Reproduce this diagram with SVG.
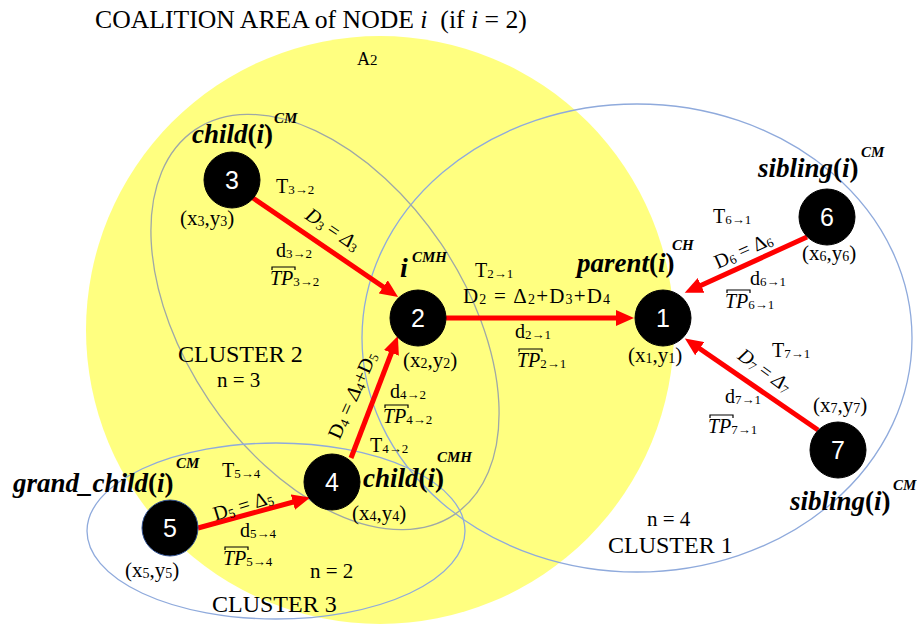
<svg xmlns="http://www.w3.org/2000/svg" width="917" height="626" viewBox="0 0 917 626">
<style>
text{font-family:"Liberation Serif","Times New Roman",serif;fill:#000}
.t{font-size:20px}
.co{font-size:21px}
.s{font-size:13px}
.s2{font-size:14px}
.lbl{font-size:27px;font-weight:bold;font-style:italic}
.up{font-style:normal}
.sup{font-size:15px;font-weight:bold;font-style:italic}
.it{font-style:italic}
.cl{font-size:24px}
.num{font-family:"Liberation Sans","Open Sans",sans-serif;font-size:25px;fill:#fff;text-anchor:middle}
.node{fill:#000;stroke:#000;stroke-width:1}
.clu{fill:none;stroke-width:1.3}
.arr{stroke:#ff0000;stroke-width:5;fill:none;marker-end:url(#ah)}
.ob{fill:none;stroke:#000;stroke-width:1.2}
</style>
<defs>
<marker id="ah" markerUnits="userSpaceOnUse" markerWidth="20" markerHeight="16" refX="10" refY="8" orient="auto">
<path d="M0,0 L18,8 L0,16 z" fill="#ff0000"/>
</marker>
</defs>
<rect width="917" height="626" fill="#fff"/>
<g id="coalition-area">
<circle cx="380" cy="330" r="294" fill="#ffff80"/>
</g>
<g id="clusters">
<ellipse id="cluster1" class="clu" cx="637" cy="338" rx="275" ry="234" stroke="#8faadc"/>
<ellipse id="cluster2" class="clu" cx="0" cy="0" rx="232" ry="140" transform="translate(325,322) rotate(56)" stroke="#9fa8a6"/>
<ellipse id="cluster3" class="clu" cx="276" cy="531" rx="189" ry="88" stroke="#8faadc"/>
</g>
<g id="title">
<text x="95" y="28" style="font-size:25.7px" xml:space="preserve">COALITION AREA of NODE <tspan class="it">i</tspan>  (if <tspan class="it">i</tspan> = 2)</text>
<text x="357" y="65" style="font-size:18px">A<tspan style="font-size:15px">2</tspan></text>
</g>
<g id="connectors">
<path id="e3-2" class="arr" d="M253,198 L391.5,292.5"/>
<path id="e2-1" class="arr" d="M446,318 L626,318"/>
<path id="e6-1" class="arr" d="M807,237 L692,289.5"/>
<path id="e7-1" class="arr" d="M818,430 L691.5,343"/>
<path id="e4-2" class="arr" d="M351,458 L395,343.5"/>
<path id="e5-4" class="arr" d="M198,528 L302.5,499.5"/>
</g>
<g id="node3">
<circle class="node" cx="232" cy="180" r="28"/>
<text class="num" x="232" y="189">3</text>
<text class="lbl" x="192" y="143">child<tspan class="up">(</tspan>i<tspan class="up">)</tspan></text>
<text class="sup" x="274" y="123">CM</text>
<text class="co" x="180" y="225">(x<tspan class="s2" dy="1">3</tspan><tspan dy="-1">,y</tspan><tspan class="s2" dy="1">3</tspan><tspan dy="-1">)</tspan></text>
</g>
<g id="node2">
<circle class="node" cx="418" cy="318" r="28"/>
<text class="num" x="418" y="327">2</text>
<text class="lbl" x="400" y="277" style="font-size:28px">i</text>
<text class="sup" x="412" y="262">CMH</text>
<text class="co" x="403" y="367">(x<tspan class="s2" dy="1">2</tspan><tspan dy="-1">,y</tspan><tspan class="s2" dy="1">2</tspan><tspan dy="-1">)</tspan></text>
</g>
<g id="node1">
<circle class="node" cx="663" cy="318" r="28"/>
<text class="num" x="663" y="327">1</text>
<text class="lbl" x="577" y="272">parent<tspan class="up">(</tspan>i<tspan class="up">)</tspan></text>
<text class="sup" x="672" y="250">CH</text>
<text class="co" x="628" y="362">(x<tspan class="s2" dy="1">1</tspan><tspan dy="-1">,y</tspan><tspan class="s2" dy="1">1</tspan><tspan dy="-1">)</tspan></text>
</g>
<g id="node6">
<circle class="node" cx="827" cy="217" r="28"/>
<text class="num" x="827" y="226">6</text>
<text class="lbl" x="758" y="177">sibling<tspan class="up">(</tspan>i<tspan class="up">)</tspan></text>
<text class="sup" x="861" y="157">CM</text>
<text class="co" x="802" y="260">(x<tspan class="s2" dy="1">6</tspan><tspan dy="-1">,y</tspan><tspan class="s2" dy="1">6</tspan><tspan dy="-1">)</tspan></text>
</g>
<g id="node7">
<circle class="node" cx="838" cy="450" r="28"/>
<text class="num" x="838" y="459">7</text>
<text class="lbl" x="790" y="510">sibling<tspan class="up">(</tspan>i<tspan class="up">)</tspan></text>
<text class="sup" x="893" y="490">CM</text>
<text class="co" x="813" y="412">(x<tspan class="s2" dy="1">7</tspan><tspan dy="-1">,y</tspan><tspan class="s2" dy="1">7</tspan><tspan dy="-1">)</tspan></text>
</g>
<g id="node4">
<circle class="node" cx="332" cy="482" r="28"/>
<text class="num" x="332" y="491">4</text>
<text class="lbl" x="363" y="487">child<tspan class="up">(</tspan>i<tspan class="up">)</tspan></text>
<text class="sup" x="437" y="462">CMH</text>
<text class="co" x="352" y="520">(x<tspan class="s2" dy="1">4</tspan><tspan dy="-1">,y</tspan><tspan class="s2" dy="1">4</tspan><tspan dy="-1">)</tspan></text>
</g>
<g id="node5">
<circle class="node" cx="170" cy="528" r="28" style="stroke:#2f4f8f"/>
<text class="num" x="170" y="537">5</text>
<text class="lbl" x="13" y="492">grand_child<tspan class="up">(</tspan>i<tspan class="up">)</tspan></text>
<text class="sup" x="176" y="468">CM</text>
<text class="co" x="125" y="577">(x<tspan class="s2" dy="1">5</tspan><tspan dy="-1">,y</tspan><tspan class="s2" dy="1">5</tspan><tspan dy="-1">)</tspan></text>
</g>
<g id="edge-labels">
<text class="t" x="276" y="193">T<tspan class="s" dy="1">3→2</tspan></text>
<g transform="translate(333,229) rotate(34)"><text class="t" x="0" y="7" text-anchor="middle"><tspan class="it">D</tspan><tspan class="s" dy="2">3</tspan><tspan dy="-2"> = </tspan><tspan class="it">Δ</tspan><tspan class="s" dy="2">3</tspan></text></g>
<text class="t" x="276" y="257">d<tspan class="s" dy="1">3→2</tspan></text>
<text class="t" x="270" y="285"><tspan class="it">TP</tspan><tspan class="s" dy="1">3→2</tspan></text>
<path class="ob" d="M272,270 V267 H295 V270"/>
<text class="t" x="475" y="277">T<tspan class="s" dy="1">2→1</tspan></text>
<text class="t" x="463" y="303" style="font-size:21px" textLength="147" lengthAdjust="spacing">D<tspan class="s2" dy="1">2</tspan><tspan dy="-1"> = Δ</tspan><tspan class="s2" dy="1">2</tspan><tspan dy="-1">+D</tspan><tspan class="s2" dy="1">3</tspan><tspan dy="-1">+D</tspan><tspan class="s2" dy="1">4</tspan></text>
<text class="t" x="515" y="338">d<tspan class="s" dy="1">2→1</tspan></text>
<text class="t" x="517" y="367"><tspan class="it">TP</tspan><tspan class="s" dy="1">2→1</tspan></text>
<path class="ob" d="M519,352 V349 H542 V352"/>
<text class="t" x="713" y="223">T<tspan class="s" dy="1">6→1</tspan></text>
<g transform="translate(743,250) rotate(-24)"><text class="t" x="0" y="7" text-anchor="middle">D<tspan class="s" dy="2">6</tspan><tspan dy="-2"> = Δ</tspan><tspan class="s" dy="2">6</tspan></text></g>
<text class="t" x="750" y="285">d<tspan class="s" dy="1">6→1</tspan></text>
<text class="t" x="725" y="308"><tspan class="it">TP</tspan><tspan class="s" dy="1">6→1</tspan></text>
<path class="ob" d="M727,293 V290 H750 V293"/>
<text class="t" x="772" y="357">T<tspan class="s" dy="1">7→1</tspan></text>
<g transform="translate(765,370) rotate(36)"><text class="t" x="0" y="7" text-anchor="middle"><tspan class="it">D</tspan><tspan class="s" dy="2">7</tspan><tspan dy="-2"> = </tspan><tspan class="it">Δ</tspan><tspan class="s" dy="2">7</tspan></text></g>
<text class="t" x="725" y="403">d<tspan class="s" dy="1">7→1</tspan></text>
<text class="t" x="708" y="433"><tspan class="it">TP</tspan><tspan class="s" dy="1">7→1</tspan></text>
<path class="ob" d="M710,418 V415 H733 V418"/>
<text class="t" x="370" y="452">T<tspan class="s" dy="1">4→2</tspan></text>
<g transform="translate(352,395) rotate(-66)"><text class="t" x="0" y="7" text-anchor="middle">D<tspan class="s" dy="2">4</tspan><tspan dy="-2"> = </tspan><tspan class="it">Δ</tspan><tspan class="s" dy="2">4</tspan><tspan dy="-2">+D</tspan><tspan class="s" dy="2">5</tspan></text></g>
<text class="t" x="390" y="398">d<tspan class="s" dy="1">4→2</tspan></text>
<text class="t" x="383" y="423"><tspan class="it">TP</tspan><tspan class="s" dy="1">4→2</tspan></text>
<path class="ob" d="M385,408 V405 H408 V408"/>
<text class="t" x="222" y="477">T<tspan class="s" dy="1">5→4</tspan></text>
<g transform="translate(243,505) rotate(-17)"><text class="t" x="0" y="7" text-anchor="middle">D<tspan class="s" dy="2">5</tspan><tspan dy="-2"> = Δ</tspan><tspan class="s" dy="2">5</tspan></text></g>
<text class="t" x="240" y="537">d<tspan class="s" dy="1">5→4</tspan></text>
<text class="t" x="223" y="565"><tspan class="it">TP</tspan><tspan class="s" dy="1">5→4</tspan></text>
<path class="ob" d="M225,550 V547 H248 V550"/>
</g>
<g id="cluster-labels">
<text class="cl" x="178" y="362">CLUSTER 2</text>
<text class="co" x="217" y="387">n = 3</text>
<text class="co" x="310" y="578">n = 2</text>
<text class="cl" x="212" y="612">CLUSTER 3</text>
<text class="co" x="647" y="526">n = 4</text>
<text class="cl" x="608" y="553">CLUSTER 1</text>
</g>
</svg>
